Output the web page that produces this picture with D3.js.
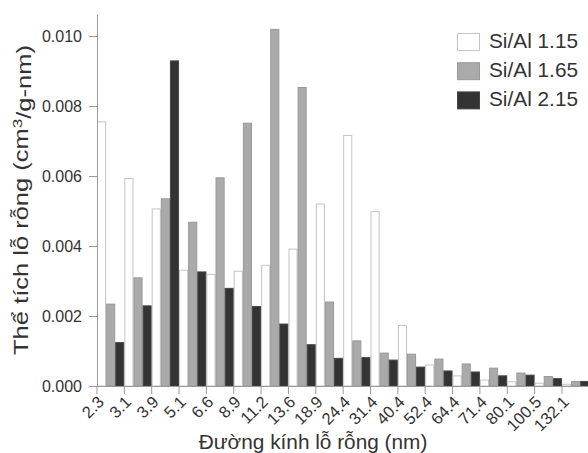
<!DOCTYPE html>
<html>
<head>
<meta charset="utf-8">
<script src="https://cdn.jsdelivr.net/npm/d3@7"></script>
<style>
  html, body { margin: 0; padding: 0; background: #fff; }
  svg { display: block; }
  text { font-family: "Liberation Sans", Arial, sans-serif; fill: #333; }
</style>
</head>
<body>
<svg id="chart" width="588" height="453"></svg>
<script>
const categories = ["2.3","3.1","3.9","5.1","6.6","8.9","11.2","13.6","18.9","24.4","31.4","40.4","52.4","64.4","71.4","80.1","100.5","132.1"];
const seriesNames = ["Si/Al 1.15","Si/Al 1.65","Si/Al 2.15"];
const siAl115 = [0.00755,0.00593,0.00506,0.00331,0.00319,0.00328,0.00345,0.00391,0.00520,0.00716,0.00498,0.00173,0.00060,0.00029,0.00017,0.00012,0.00008,0.00005];
const siAl165 = [0.00234,0.00309,0.00535,0.00468,0.00595,0.00751,0.01019,0.00853,0.00240,0.00129,0.00094,0.00091,0.00077,0.00063,0.00051,0.00037,0.00027,0.00013];
const siAl215 = [0.00124,0.00229,0.00929,0.00326,0.00279,0.00227,0.00177,0.00118,0.00079,0.00081,0.00074,0.00054,0.00043,0.00040,0.00029,0.00031,0.00021,0.00013];
const yTicks = [0, 0.002, 0.004, 0.006, 0.008, 0.010];
const xTitle = "Đường kính lỗ rỗng (nm)";

(function () {
const seriesValues = [siAl115, siAl165, siAl215];
const fills = ["#ffffff", "#aaaaaa", "#333333"];
const strokes = ["#c4c4c4", "#999999", "#444444"];

const svg = d3.select("#chart");
const mLeft = 97, mBottom = 386, mTop = 14;
const step = 27.35;
const mRight = mLeft + step * categories.length;

const x = d3.scaleBand().domain(categories).range([mLeft, mRight]).padding(0);
const xs = d3.scaleBand().domain(d3.range(seriesNames.length)).range([0, x.bandwidth()]).padding(0);
const y = d3.scaleLinear().domain([0, 0.01063]).range([mBottom, mTop]);

// bars
categories.forEach((c, i) => {
  const g = svg.append("g").attr("transform", `translate(${x(c)},0)`);
  seriesValues.forEach((vals, s) => {
    g.append("rect")
      .attr("x", xs(s) + 0.5)
      .attr("y", y(vals[i]))
      .attr("width", xs.bandwidth() - 1)
      .attr("height", mBottom - y(vals[i]))
      .attr("fill", fills[s])
      .attr("stroke", strokes[s])
      .attr("stroke-width", 1);
  });
});

// y axis
const yAxis = d3.axisLeft(y).tickValues(yTicks).tickFormat(d3.format(".3f")).tickSizeInner(8).tickSizeOuter(0).tickPadding(7);
const yg = svg.append("g").attr("transform", `translate(${mLeft},0)`).call(yAxis);
yg.select(".domain").attr("stroke", "#999");
yg.selectAll(".tick line").attr("stroke", "#999");
yg.selectAll(".tick text").style("font-size", "16px").attr("fill", "#333");

// x axis
const xAxis = d3.axisBottom(x).tickSizeInner(8).tickSizeOuter(0).tickFormat(d => d);
const xg = svg.append("g").attr("transform", `translate(0,${mBottom})`).call(xAxis);
xg.select(".domain").attr("stroke", "#999");
xg.selectAll(".tick").attr("transform", d => `translate(${x(d)},0)`);
xg.selectAll(".tick line").attr("stroke", "#999");
xg.selectAll(".tick text")
  .style("font-size", "16.5px").attr("fill", "#333")
  .attr("text-anchor", "end")
  .attr("x", null).attr("y", null).attr("dy", null)
  .attr("transform", "translate(8,17) rotate(-45)");

// axis titles
svg.append("text")
  .attr("x", 313).attr("y", 449)
  .attr("text-anchor", "middle")
  .style("font-size", "20.8px")
  .text(xTitle);

const yt = svg.append("text")
  .attr("transform", "translate(28,200) rotate(-90)")
  .attr("text-anchor", "middle")
  .attr("textLength", 310)
  .attr("lengthAdjust", "spacingAndGlyphs")
  .style("font-size", "19.5px");
yt.append("tspan").text("Thể tích lỗ rỗng (cm");
yt.append("tspan").attr("dy", "-0.45em").style("font-size", "13px").text("3");
yt.append("tspan").attr("dy", "0.45em").text("/g-nm)");

// legend
const lg = svg.append("g").attr("transform", "translate(457,33)");
seriesNames.forEach((n, s) => {
  const row = lg.append("g").attr("transform", `translate(0,${s * 29.2})`);
  row.append("rect").attr("x", 0.5).attr("y", 0.5).attr("width", 22).attr("height", 17)
    .attr("fill", fills[s]).attr("stroke", strokes[s]);
  row.append("text").attr("x", 32).attr("y", 15).style("font-size", "20.8px").text(n);
});
})();
</script>
</body>
</html>
